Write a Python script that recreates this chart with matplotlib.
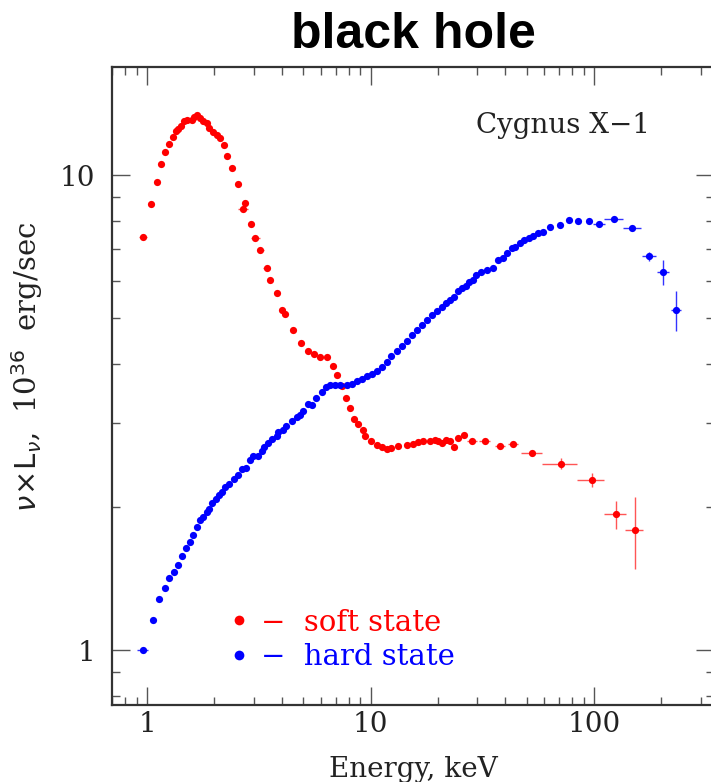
import numpy as np
import matplotlib.pyplot as plt
from matplotlib.lines import Line2D

# soft state (red)
soft_e = [0.963, 1.042, 1.108, 1.159, 1.208, 1.254, 1.303, 1.348, 1.38, 1.419,
          1.464, 1.515, 1.585, 1.63, 1.674, 1.727, 1.786, 1.85, 1.9, 1.967,
          2.05, 2.12, 2.2, 2.29, 2.41, 2.55, 2.70, 2.73, 2.93, 3.05,
          3.21, 3.43, 3.56, 3.80, 4.0, 4.14, 4.48, 4.89, 5.27, 5.59,
          5.95, 6.36, 6.76, 7.05, 7.44, 7.77, 8.1, 8.45, 8.82, 9.23,
          9.47, 10.0, 10.65, 11.2, 11.8, 12.4, 13.2, 14.5, 15.5, 16.3,
          17.2, 18.4, 19.4, 20.1, 20.8, 21.7, 22.7, 23.7, 24.5, 26.2,
          28.5, 32.5, 38.1, 43.5, 52.7, 71.3, 97.7, 125, 152]
soft_f = [7.41, 8.69, 9.67, 10.55, 11.2, 11.66, 12.04, 12.38, 12.54, 12.72,
          13.01, 13.1, 13.1, 13.27, 13.37, 13.2, 13.01, 12.85, 12.6, 12.34,
          12.14, 12.0, 11.6, 11.0, 10.34, 9.6, 8.48, 8.74, 7.88, 7.36,
          6.96, 6.38, 6.02, 5.64, 5.2, 5.11, 4.72, 4.44, 4.27, 4.2,
          4.15, 4.14, 3.97, 3.79, 3.6, 3.39, 3.24, 3.07, 2.99, 2.9,
          2.83, 2.75, 2.70, 2.68, 2.65, 2.66, 2.69, 2.70, 2.72, 2.74,
          2.76, 2.76, 2.77, 2.76, 2.73, 2.77, 2.76, 2.68, 2.79, 2.84,
          2.75, 2.75, 2.69, 2.71, 2.60, 2.47, 2.28, 1.93, 1.79]
soft_xerr = [0.04, 0, 0, 0, 0, 0, 0, 0, 0, 0,
             0, 0, 0, 0, 0, 0, 0, 0, 0, 0,
             0, 0, 0, 0, 0, 0, 0.14, 0, 0, 0.14,
             0.12, 0.12, 0.1, 0.1, 0.1, 0.1, 0, 0, 0, 0,
             0, 0, 0, 0, 0, 0, 0, 0, 0, 0,
             0, 0, 0, 0, 0, 0, 0, 0, 0, 0,
             0, 0, 0, 0, 0, 0, 0, 0, 0, 0,
             1.5, 1.8, 2.0, 2.3, 5.5, 13, 13.5, 14, 14]
soft_yerr = [0] * 75 + [0.07, 0.08, 0.13, 0.31]

# hard state (blue)
hard_e = [0.956, 1.06, 1.135, 1.2, 1.258, 1.316, 1.38, 1.44, 1.49, 1.56,
          1.61, 1.67, 1.727, 1.786, 1.85, 1.9, 1.96, 2.03, 2.1, 2.16,
          2.23, 2.33, 2.44, 2.55, 2.65, 2.77, 2.89, 2.99, 3.13, 3.26,
          3.35, 3.49, 3.64, 3.8, 3.87, 4.05, 4.19, 4.44, 4.67, 4.84,
          5.0, 5.27, 5.45, 5.7, 6.04, 6.32, 6.6, 6.93, 7.3, 7.83,
          8.25, 8.69, 9.12, 9.6, 10.1, 10.65, 11.2, 11.8, 12.4, 13.1,
          13.8, 14.5, 15.3, 16.1, 17.0, 17.9, 18.8, 19.8, 20.8, 21.8,
          22.7, 23.6, 24.6, 25.7, 26.6, 27.7, 28.6, 29.5, 31.1, 33.2,
          35.2, 37.0, 39.0, 40.9, 42.9, 44.4, 46.4, 48.7, 50.9, 53.5,
          56.3, 59.3, 63.5, 70.1, 77.4, 85.0, 94.5, 105.5, 122.6, 148.4,
          176.5, 204, 232]
hard_f = [1.0, 1.157, 1.28, 1.35, 1.42, 1.46, 1.51, 1.58, 1.64, 1.69,
          1.75, 1.82, 1.88, 1.91, 1.95, 1.98, 2.04, 2.08, 2.12, 2.15,
          2.2, 2.24, 2.29, 2.34, 2.41, 2.42, 2.51, 2.56, 2.56, 2.63,
          2.68, 2.73, 2.78, 2.82, 2.88, 2.9, 2.96, 3.04, 3.1, 3.12,
          3.19, 3.3, 3.28, 3.4, 3.5, 3.58, 3.61, 3.62, 3.61, 3.62,
          3.64, 3.68, 3.73, 3.77, 3.81, 3.87, 3.95, 4.05, 4.16, 4.26,
          4.37, 4.48, 4.6, 4.72, 4.83, 4.95, 5.07, 5.18, 5.28, 5.37,
          5.46, 5.55, 5.71, 5.78, 5.85, 5.96, 6.01, 6.15, 6.24, 6.31,
          6.37, 6.62, 6.70, 6.86, 7.01, 7.07, 7.20, 7.30, 7.38, 7.45,
          7.54, 7.60, 7.78, 7.87, 8.04, 8.00, 7.99, 7.88, 8.07, 7.75,
          6.75, 6.26, 5.2]
hard_xerr = [0.05] + [0] * 96 + [6.5, 11.5, 14, 13, 12, 12]
hard_yerr = [0] * 100 + [0.15, 0.38, 0.51]

fig = plt.figure(figsize=(7.11, 7.82), dpi=100)
ax = fig.add_axes([112 / 711, 77 / 782, 602 / 711, 638 / 782])

plt.rcParams['mathtext.fontset'] = 'dejavuserif'
serif = 'DejaVu Serif'

ax.errorbar(soft_e, soft_f, xerr=soft_xerr, yerr=soft_yerr, fmt='o', ms=5.2,
            color='#ff0000', ecolor='#ff5555', elinewidth=1.0, capsize=0, mew=0)
ax.errorbar(hard_e, hard_f, xerr=hard_xerr, yerr=hard_yerr, fmt='o', ms=5.2,
            color='#0000ff', ecolor='#3333ff', elinewidth=1.0, capsize=0, mew=0)

ax.set_xscale('log')
ax.set_yscale('log')
ax.set_xlim(0.697, 344)
ax.set_ylim(0.766, 16.9)

ax.set_xticks([1, 10, 100])
ax.set_xticklabels(['1', '10', '100'])
ax.set_yticks([1, 10])
ax.set_yticklabels(['1', '10'])

ax.tick_params(which='both', direction='in', top=True, right=True,
               colors='#555555', labelcolor='#222222')
ax.tick_params(which='major', length=13, width=1.0, labelsize=20)
ax.tick_params(which='minor', length=6, width=1.0)
ax.tick_params(axis='x', which='major', pad=4)
ax.tick_params(axis='y', which='major', pad=12)
for lab in ax.get_xticklabels() + ax.get_yticklabels():
    lab.set_fontfamily(serif)
for s in ax.spines.values():
    s.set_linewidth(1.6)
    s.set_color('#333333')

ax.set_xlabel('Energy, keV', fontsize=20, family=serif, color='#222222', labelpad=13)
ax.set_ylabel(r'$\nu\!\times\!\mathrm{L}_\nu$,  10$^{36}$  erg/sec', fontsize=21,
              family=serif, color='#222222')
ax.yaxis.set_label_coords(-0.112, 0.53)

ax.text(0.894, 0.8966, 'Cygnus X\u22121', transform=ax.transAxes, ha='right',
        va='baseline', fontsize=20, family=serif, color='#222222')

handles = [Line2D([], [], ls='none', marker='o', ms=7, color='#ff0000', mew=0),
           Line2D([], [], ls='none', marker='o', ms=7, color='#0000ff', mew=0)]
leg = ax.legend(handles, ['\u2212  soft state', '\u2212  hard state'],
                loc='lower left', bbox_to_anchor=(0.153, 0.012), frameon=False,
                handlelength=0.6, handletextpad=0.45, labelspacing=0.22,
                prop={'family': serif, 'size': 21})
for txt, c in zip(leg.get_texts(), ['#ff0000', '#0000ff']):
    txt.set_color(c)

fig.text(413 / 711, 1 - 48 / 782, 'black hole', ha='center', va='baseline',
         fontsize=36, fontweight='bold', family='Liberation Sans')

fig.savefig('out.png', dpi=100)
